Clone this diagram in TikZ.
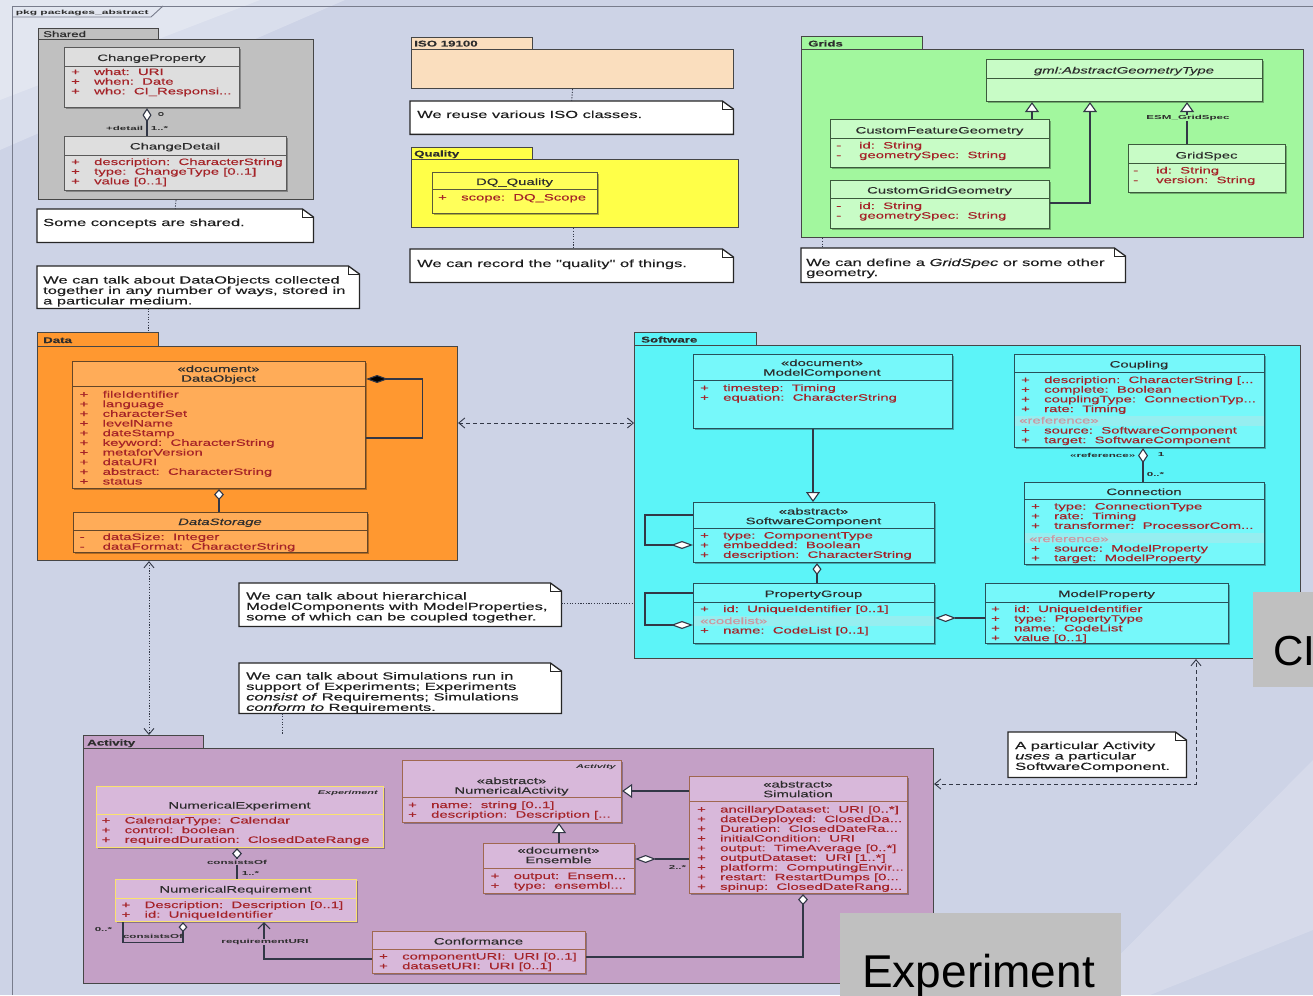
\documentclass[tikz,border=0pt]{standalone}
\usepackage{fontspec}
\usetikzlibrary{arrows.meta,calc,shadows}
\newfontfamily\umlf[FakeStretch=1.6,FakeBold=0.25]{Liberation Sans}
\newfontfamily\umlw[FakeStretch=2.0]{Liberation Sans}
\newfontfamily\plainf{Liberation Sans}
\definecolor{bgc}{RGB}{205,211,230}
\definecolor{framel}{RGB}{120,124,140}
\definecolor{pkgline}{RGB}{70,70,70}
\definecolor{shpk}{RGB}{192,192,192}
\definecolor{shcl}{RGB}{222,222,222}
\definecolor{shln}{RGB}{90,90,90}
\definecolor{dapk}{RGB}{255,152,48}
\definecolor{dacl}{RGB}{255,172,88}
\definecolor{daln}{RGB}{100,70,40}
\definecolor{isopk}{RGB}{250,222,190}
\definecolor{qpk}{RGB}{255,255,72}
\definecolor{qcl}{RGB}{255,255,90}
\definecolor{qln}{RGB}{90,90,60}
\definecolor{gpk}{RGB}{162,247,158}
\definecolor{gcl}{RGB}{200,252,198}
\definecolor{gln}{RGB}{60,90,60}
\definecolor{swpk}{RGB}{92,244,248}
\definecolor{swcl}{RGB}{118,248,250}
\definecolor{swln}{RGB}{40,80,90}
\definecolor{swband}{RGB}{150,238,240}
\definecolor{acpk}{RGB}{196,160,198}
\definecolor{accl}{RGB}{216,184,218}
\definecolor{acln}{RGB}{160,104,80}
\definecolor{neln}{RGB}{250,226,110}
\definecolor{attrc}{RGB}{165,35,40}
\definecolor{hdrc}{RGB}{45,45,45}
\definecolor{refc}{RGB}{205,150,160}
\definecolor{notec}{RGB}{30,30,30}
\definecolor{linec}{RGB}{50,55,70}
\definecolor{gboxc}{RGB}{192,192,192}
\newcommand\AP{\makebox[23pt][l]{+}}
\newcommand\AM{\makebox[23pt][l]{-}}
\newcommand\umlclass[7]{\node[clsb, draw=#6, fill=#7, minimum width=#4pt, minimum height=#5pt] (#1) at (#2,#3) {};}
\newcommand\umlsep[3]{\draw[draw=#3, line width=0.8pt] ($(#1.north west)+(0,#2)$) -- ($(#1.north east)+(0,#2)$);}
\newcommand\umlattrs[3]{\node[attr] (#1) at (#2) {\begin{tabular}[t]{@{}l@{}}#3\end{tabular}};}
\newcommand\umlnote[5]{%
  \node[notebg, minimum width=#4pt, minimum height=#5pt] (#1) at (#2,#3) {};
  \draw[noteline, fill=white] (#1.north west) -- ($(#1.north east)+(-11,0)$) -- ($(#1.north east)+(0,8)$) -- (#1.south east) -- (#1.south west) -- cycle;
  \draw[noteline, line width=0.8pt] ($(#1.north east)+(-11,0)$) -- ($(#1.north east)+(-11,8)$) -- ($(#1.north east)+(0,8)$);}
\tikzset{
  pkg/.style={draw=pkgline, line width=1.1pt, anchor=north west, inner sep=0},
  clsb/.style={line width=1.1pt, anchor=north west, inner sep=0,
    drop shadow={shadow xshift=1.6pt, shadow yshift=-1.6pt, opacity=0.3, fill=black}},
  notebg/.style={anchor=north west, inner sep=0, draw=none},
  noteline/.style={draw=black!85, line width=1.3pt},
  attr/.style={font=\umlf\fontsize{9.3}{9.67}\selectfont, text=attrc, inner sep=0, anchor=base west},
  hdr/.style={font=\umlf\fontsize{9.3}{9.67}\selectfont, text=hdrc, inner sep=0, anchor=base},
  reftxt/.style={attr, text=refc},
  notetxt/.style={font=\umlf\fontsize{10.3}{10}\selectfont, text=notec, inner sep=0, anchor=base west},
  tablbl/.style={font=\umlf\bfseries\fontsize{8.3}{9}\selectfont, text=hdrc, inner sep=0, anchor=base west},
  lbl/.style={font=\umlw\bfseries\fontsize{5.8}{6}\selectfont, text=hdrc, inner sep=0.6pt},
  stereo/.style={font=\umlw\bfseries\itshape\fontsize{5.5}{6}\selectfont, text=hdrc, inner sep=0, anchor=base east},
  conn/.style={draw=linec, line width=1.1pt},
  agg/.style 2 args={conn, arrows={Diamond[fill=white,length=#1,width=#2]-}},
  comp/.style={conn, arrows={Diamond[fill=black,length=22pt,width=8pt]-}},
  gen/.style={conn, arrows={-Triangle[fill=white,length=10pt,width=14pt]}},
  assoc/.style={conn, arrows={-Straight Barb[length=6pt,width=12pt]}},
  dotl/.style={draw=linec, line width=0.9pt, dash pattern=on 1.2pt off 1.5pt},
  dep/.style={draw=linec, line width=0.9pt, dash pattern=on 4pt off 3pt, arrows={Straight Barb[length=6pt,width=10pt]-Straight Barb[length=6pt,width=10pt]}},
  dotdep/.style={dotl, arrows={Straight Barb[length=6pt,width=10pt]-Straight Barb[length=6pt,width=10pt]}},
  gbox/.style={fill=gboxc, draw=none, anchor=north west, inner sep=0},
  bigtxt/.style={font=\plainf\fontsize{46}{46}\selectfont, text=black, inner sep=0, anchor=base west},
}
\begin{document}
\begin{tikzpicture}[x=1pt,y=-1pt]
\useasboundingbox (0,0) rectangle (1313,995);
\fill[bgc] (0,0) rectangle (1313,995);
% light slide swooshes
\fill[white, opacity=0.25] (0,0) -- (345,0) -- (0,150) -- cycle;
\fill[white, opacity=0.25] (0,0) -- (260,0) -- (0,100) -- cycle;
\fill[white, opacity=0.18] (1313,760) -- (1313,930) -- (1150,995) -- (1080,995) -- cycle;
% frame
\draw[draw=framel, line width=0.9pt] (12,995) -- (12,6) -- (1313,6);
\draw[draw=framel, line width=0.9pt] (12,17) -- (151,17) -- (163,6);
\node[lbl, anchor=base west, font=\umlw\bfseries\fontsize{6}{7}\selectfont] (fr-l) at (15,14.5) {pkg packages\_abstract};

% ---------------- Shared
\node[pkg, fill=shpk, minimum width=120pt, minimum height=11pt] (sh-tab) at (38,28) {};
\node[pkg, fill=shpk, minimum width=275pt, minimum height=160pt] (sh) at (38,39) {};
\node[tablbl, font=\umlf\fontsize{8.3}{9}\selectfont] (sh-l) at (43,37) {Shared};
\umlclass{cp}{64}{47}{175}{60}{shln}{shcl}
\umlsep{cp}{19}{shln}
\node[hdr] (cp-h) at (151.5,61) {ChangeProperty};
\umlattrs{cp-a}{71,75}{\AP what:~~URI\\\AP when:~~Date\\\AP who:~~CI\_Responsi...}
\umlclass{cd}{64}{136}{222}{54}{shln}{shcl}
\umlsep{cd}{19}{shln}
\node[hdr] (cd-h) at (175,149.5) {ChangeDetail};
\umlattrs{cd-a}{71,165}{\AP description:~~CharacterString\\\AP type:~~ChangeType [0..1]\\\AP value [0..1]}
\draw[agg={14pt}{9pt}] ($(cp.south west)+(83,0)$) -- ($(cd.north west)+(83,0)$);
\node[lbl, anchor=west, font=\umlf\fontsize{7}{8}\selectfont] (cp-o) at (157,114) {o};
\node[lbl, anchor=base east] (cd-r) at (144,131) {+detail};
\node[lbl, anchor=base west] (cd-m) at (150,131) {1..*};
\umlnote{n-sh}{37}{209}{276}{33}
\node[notetxt] (n-sh-t) at (43,226) {Some concepts are shared.};
\draw[dotl] (sh.south) -- (n-sh.north);

% ---------------- Data note
\umlnote{n-do}{37}{266}{322}{42}
\node[notetxt] (n-do-t) at (43,283.5) {\begin{tabular}[t]{@{}l@{}}We can talk about DataObjects collected\\together in any number of ways, stored in\\a particular medium.\end{tabular}};

% ---------------- Data
\node[pkg, fill=dapk, minimum width=121pt, minimum height=14pt] (da-tab) at (37,332) {};
\node[pkg, fill=dapk, minimum width=420pt, minimum height=214pt] (da) at (37,346) {};
\node[tablbl] (da-l) at (43,343) {Data};
\draw[dotl] ($(n-do.south west)+(111,0)$) -- ($(da-tab.north west)+(111,0)$);
\umlclass{do}{72}{361}{293}{127}{daln}{dacl}
\umlsep{do}{25.5}{daln}
\node[hdr] (do-h) at (218.5,372) {\begin{tabular}[t]{@{}c@{}}«document»\\DataObject\end{tabular}};
\umlattrs{do-a}{79.5,397.5}{\AP fileIdentifier\\\AP language\\\AP characterSet\\\AP levelName\\\AP dateStamp\\\AP keyword:~~CharacterString\\\AP metaforVersion\\\AP dataURI\\\AP abstract:~~CharacterString\\\AP status}
\draw[comp] ($(do.north east)+(0,18)$) -- ++(56,0) -- ++(0,59) -- ++(-56,0);
\umlclass{ds}{73}{512}{294}{40}{daln}{dacl}
\umlsep{ds}{18.5}{daln}
\node[hdr] (ds-h) at (220,525) {\textit{DataStorage}};
\umlattrs{ds-a}{79.5,540}{\AM dataSize:~~Integer\\\AM dataFormat:~~CharacterString}
\draw[agg={11pt}{10pt}] ($(do.south west)+(147,0)$) -- ($(ds.north west)+(146,0)$);

% ---------------- ISO
\node[pkg, fill=isopk, minimum width=121pt, minimum height=12pt] (iso-tab) at (411,37) {};
\node[pkg, fill=isopk, minimum width=322pt, minimum height=39pt] (iso) at (411,49) {};
\node[tablbl] (iso-l) at (414,46.5) {ISO 19100};
\umlnote{n-iso}{410}{101}{323}{33}
\node[notetxt] (n-iso-t) at (417,118) {We reuse various ISO classes.};
\draw[dotl] (iso.south) -- (n-iso.north);

% ---------------- Quality
\node[pkg, fill=qpk, minimum width=121pt, minimum height=12pt] (q-tab) at (411,147) {};
\node[pkg, fill=qpk, minimum width=327pt, minimum height=68pt] (q) at (411,159) {};
\node[tablbl] (q-l) at (414,156.5) {Quality};
\umlclass{dq}{432}{172}{165}{41}{qln}{qcl}
\umlsep{dq}{17.5}{qln}
\node[hdr] (dq-h) at (514.5,185) {DQ\_Quality};
\umlattrs{dq-a}{438,200.5}{\AP scope:~~DQ\_Scope}
\umlnote{n-q}{410}{249}{323}{33}
\node[notetxt] (n-q-t) at (417,267) {We can record the "quality" of things.};
\draw[dotl] ($(q.south west)+(162,0)$) -- ($(n-q.north west)+(163,0)$);

% ---------------- Grids
\node[pkg, fill=gpk, minimum width=121pt, minimum height=13pt] (g-tab) at (801,36) {};
\node[pkg, fill=gpk, minimum width=502pt, minimum height=188pt] (g) at (801,49) {};
\node[tablbl] (g-l) at (808,46.5) {Grids};
\umlclass{agt}{986}{59}{276}{42}{gln}{gcl}
\umlsep{agt}{19}{gln}
\node[hdr] (agt-h) at (1124,73.5) {\textit{gml:AbstractGeometryType}};
\umlclass{cfg}{830}{119}{219}{48}{gln}{gcl}
\umlsep{cfg}{19}{gln}
\node[hdr] (cfg-h) at (939.5,133.5) {CustomFeatureGeometry};
\umlattrs{cfg-a}{836,148.5}{\AM id:~~String\\\AM geometrySpec:~~String}
\umlclass{cgg}{830}{180}{219}{48}{gln}{gcl}
\umlsep{cgg}{18}{gln}
\node[hdr] (cgg-h) at (939.5,193.5) {CustomGridGeometry};
\umlattrs{cgg-a}{836,209}{\AM id:~~String\\\AM geometrySpec:~~String}
\umlclass{gs}{1128}{144}{157}{48}{gln}{gcl}
\umlsep{gs}{19}{gln}
\node[hdr] (gs-h) at (1206.5,158.5) {GridSpec};
\umlattrs{gs-a}{1133,173.5}{\AM id:~~String\\\AM version:~~String}
\draw[gen] ($(cfg.north west)+(202,0)$) -- ($(agt.south west)+(46,0)$);
\draw[gen] ($(cgg.north east)+(0,23)$) -| ($(agt.south west)+(104,0)$);
\draw[gen] ($(gs.north west)+(59,0)$) -- ($(agt.south west)+(201,0)$);
\node[lbl, fill=gpk] (gs-s) at (1188,118) {ESM\_GridSpec};
\umlnote{n-g}{801}{248}{324}{34}
\node[notetxt] (n-g-t) at (806,266) {\begin{tabular}[t]{@{}l@{}}We can define a \textit{GridSpec} or some other\\geometry.\end{tabular}};
\draw[dotl] ($(g.south west)+(21,0)$) -- ($(n-g.north west)+(21,0)$);

% ---------------- Software
\node[pkg, fill=swpk, minimum width=122pt, minimum height=13pt] (sw-tab) at (634,332) {};
\node[pkg, fill=swpk, minimum width=666pt, minimum height=313pt] (sw) at (634,345) {};
\node[tablbl] (sw-l) at (641,342.5) {Software};
\umlclass{mc}{693}{354}{259}{74}{swln}{swcl}
\umlsep{mc}{26.5}{swln}
\node[hdr] (mc-h) at (822,366) {\begin{tabular}[t]{@{}c@{}}«document»\\ModelComponent\end{tabular}};
\umlattrs{mc-a}{700,391}{\AP timestep:~~Timing\\\AP equation:~~CharacterString}
\umlclass{sc}{693}{502}{241}{60}{swln}{swcl}
\umlsep{sc}{26.5}{swln}
\node[hdr] (sc-h) at (813.5,514.5) {\begin{tabular}[t]{@{}c@{}}«abstract»\\SoftwareComponent\end{tabular}};
\umlattrs{sc-a}{700,538.5}{\AP type:~~ComponentType\\\AP embedded:~~Boolean\\\AP description:~~CharacterString}
\umlclass{pg}{693}{583}{241}{60}{swln}{swcl}
\umlsep{pg}{19}{swln}
\fill[swband] ($(pg.north west)+(1,33)$) rectangle ($(pg.north east)+(-1,43)$);
\node[hdr] (pg-h) at (813.5,597) {PropertyGroup};
\umlattrs{pg-a}{700,612}{\AP id:~~UniqueIdentifier [0..1]}
\node[reftxt] (pg-r) at (700,624) {«codelist»};
\umlattrs{pg-b}{700,633.5}{\AP name:~~CodeList [0..1]}
\umlclass{mp}{985}{583}{243}{60}{swln}{swcl}
\umlsep{mp}{19}{swln}
\node[hdr] (mp-h) at (1106.5,597) {ModelProperty};
\umlattrs{mp-a}{991,612}{\AP id:~~UniqueIdentifier\\\AP type:~~PropertyType\\\AP name:~~CodeList\\\AP value [0..1]}
\umlclass{cpl}{1014}{354}{250}{93}{swln}{swcl}
\umlsep{cpl}{18.5}{swln}
\fill[swband] ($(cpl.north west)+(1,62)$) rectangle ($(cpl.north east)+(-1,72)$);
\node[hdr] (cpl-h) at (1139,367.5) {Coupling};
\umlattrs{cpl-a}{1021,383}{\AP description:~~CharacterString [...\\\AP complete:~~Boolean\\\AP couplingType:~~ConnectionTyp...\\\AP rate:~~Timing}
\node[reftxt] (cpl-r) at (1019,423.5) {«reference»};
\umlattrs{cpl-b}{1021,433.5}{\AP source:~~SoftwareComponent\\\AP target:~~SoftwareComponent}
\umlclass{con}{1024}{482}{240}{82}{swln}{swcl}
\umlsep{con}{17.5}{swln}
\fill[swband] ($(con.north west)+(1,51)$) rectangle ($(con.north east)+(-1,61)$);
\node[hdr] (con-h) at (1144,495) {Connection};
\umlattrs{con-a}{1031,509.5}{\AP type:~~ConnectionType\\\AP rate:~~Timing\\\AP transformer:~~ProcessorCom...}
\node[reftxt] (con-rr) at (1029,542) {«reference»};
\umlattrs{con-b}{1031,551.5}{\AP source:~~ModelProperty\\\AP target:~~ModelProperty}
\draw[gen] ($(mc.south west)+(120,0)$) -- ($(sc.north west)+(120,0)$);
\draw[agg={22pt}{8pt}] ($(sc.north west)+(0,43)$) -- ++(-48,0) -- ++(0,-30) -- ++(48,0);
\draw[agg={12pt}{9pt}] ($(sc.south west)+(124,0)$) -- ($(pg.north west)+(124,0)$);
\draw[agg={22pt}{8pt}] ($(pg.north west)+(0,42)$) -- ++(-48,0) -- ++(0,-32) -- ++(48,0);
\draw[agg={21pt}{8pt}] ($(pg.north east)+(0,35)$) -- ($(mp.north west)+(0,35)$);
\draw[agg={15pt}{10pt}] ($(cpl.south west)+(129,0)$) -- ($(con.north west)+(119,0)$);
\node[lbl, anchor=east] (con-r) at (1136,455) {«reference»};
\node[lbl, anchor=west] (con-1) at (1157,455) {1};
\node[lbl, anchor=west] (con-m) at (1146,474) {0..*};

% Data <-> Software
\draw[dep] ($(da.north east)+(0,77)$) -- ($(sw.north west)+(0,78)$);

% ---------------- middle notes
\umlnote{n-h}{239}{583}{322}{43}
\node[notetxt] (n-h-t) at (246,599.5) {\begin{tabular}[t]{@{}l@{}}We can talk about hierarchical\\ModelComponents with ModelProperties,\\some of which can be coupled together.\end{tabular}};
\draw[dotl] ($(n-h.north east)+(0,20)$) -- ($(sw.north west)+(0,258)$);
\umlnote{n-s}{239}{663}{322}{50}
\node[notetxt] (n-s-t) at (246,679.5) {\begin{tabular}[t]{@{}l@{}}We can talk about Simulations run in\\support of Experiments; Experiments\\\textit{consist of} Requirements; Simulations\\\textit{conform to} Requirements.\end{tabular}};

% ---------------- Activity
\node[pkg, fill=acpk, minimum width=120pt, minimum height=13pt] (act-tab) at (83,735) {};
\node[pkg, fill=acpk, minimum width=850pt, minimum height=235pt] (act) at (83,748) {};
\node[tablbl] (act-l) at (87,745.5) {Activity};
\draw[dotl] ($(n-s.south west)+(43,0)$) -- ($(act-tab.north west)+(199,0)$);
\draw[dotdep] ($(da.south west)+(112,0)$) -- ($(act-tab.north west)+(66,0)$);

\umlclass{ne}{96}{786}{287}{61}{neln}{accl}
\umlsep{ne}{28}{neln}
\node[stereo] (ne-s) at (378,794) {Experiment};
\node[hdr] (ne-h) at (239.5,808.5) {NumericalExperiment};
\umlattrs{ne-a}{101.5,823.5}{\AP CalendarType:~~Calendar\\\AP control:~~boolean\\\AP requiredDuration:~~ClosedDateRange}
\umlclass{nr}{115}{879}{241}{42}{neln}{accl}
\umlsep{nr}{19}{neln}
\node[hdr] (nr-h) at (235.5,892.5) {NumericalRequirement};
\umlattrs{nr-a}{121.5,908}{\AP Description:~~Description [0..1]\\\AP id:~~UniqueIdentifier}
\draw[agg={11pt}{10pt}] ($(ne.south west)+(141,0)$) -- ($(nr.north west)+(122,0)$);
\node[lbl, fill=acpk] (nr-c) at (237,862) {consistsOf};
\node[lbl, anchor=base west] (nr-m) at (241,875.5) {1..*};
\draw[agg={10pt}{9pt}] ($(nr.south west)+(68,0)$) -- ++(0,20) -- ++(-60,0) -- ++(0,-20);
\node[lbl] (nr-c2) at (153,936.5) {consistsOf};
\node[lbl, anchor=base east] (nr-z) at (113,931) {0..*};

\umlclass{cf}{372}{931}{213}{42}{acln}{accl}
\umlsep{cf}{18.5}{acln}
\node[hdr] (cf-h) at (478.5,944.5) {Conformance};
\umlattrs{cf-a}{379,959.5}{\AP componentURI:~~URI [0..1]\\\AP datasetURI:~~URI [0..1]}
\draw[assoc] ($(cf.north west)+(0,28)$) -| ($(nr.south west)+(149,0)$);
\node[lbl, fill=acpk] (cf-r) at (265,942) {requirementURI};

\umlclass{na}{402}{760}{219}{62}{acln}{accl}
\umlsep{na}{37.5}{acln}
\node[stereo] (na-s) at (616,768) {Activity};
\node[hdr] (na-h) at (511.5,784) {\begin{tabular}[t]{@{}c@{}}«abstract»\\NumericalActivity\end{tabular}};
\umlattrs{na-a}{408,808}{\AP name:~~string [0..1]\\\AP description:~~Description [...}

\umlclass{en}{483}{843}{151}{50}{acln}{accl}
\umlsep{en}{25}{acln}
\node[hdr] (en-h) at (558.5,853.5) {\begin{tabular}[t]{@{}c@{}}«document»\\Ensemble\end{tabular}};
\umlattrs{en-a}{490.5,879}{\AP output:~~Ensem...\\\AP type:~~ensembl...}

\umlclass{sim}{689}{776}{218}{117}{acln}{accl}
\umlsep{sim}{25.5}{acln}
\node[hdr] (sim-h) at (798,787.5) {\begin{tabular}[t]{@{}c@{}}«abstract»\\Simulation\end{tabular}};
\umlattrs{sim-a}{697,812.5}{\AP ancillaryDataset:~~URI [0..*]\\\AP dateDeployed:~~ClosedDa...\\\AP Duration:~~ClosedDateRa...\\\AP initialCondition:~~URI\\\AP output:~~TimeAverage [0..*]\\\AP outputDataset:~~URI [1..*]\\\AP platform:~~ComputingEnvir...\\\AP restart:~~RestartDumps [0...\\\AP spinup:~~ClosedDateRang...}

\draw[gen] ($(sim.north west)+(0,15)$) -- ($(na.north east)+(0,31)$);
\draw[gen] ($(en.north west)+(76,0)$) -- ($(na.south west)+(157,0)$);
\draw[agg={21pt}{8pt}] ($(en.north east)+(0,16)$) -- ($(sim.north west)+(0,83)$);
\node[lbl, anchor=base west] (en-m) at (668,869) {2..*};
\draw[agg={11pt}{10pt}] ($(sim.south west)+(114,0)$) |- ($(cf.north east)+(0,26)$);

% Activity <-> Software
\draw[dep] ($(act.north east)+(0,36)$) -| ($(sw.south west)+(562,0)$);
\umlnote{n-u}{1008}{732}{178}{45}
\node[notetxt] (n-u-t) at (1015,749) {\begin{tabular}[t]{@{}l@{}}A particular Activity\\\textit{uses} a particular\\SoftwareComponent.\end{tabular}};

% ---------------- overlay boxes
\node[gbox, minimum width=62pt, minimum height=95pt] (ci) at (1253,592) {};
\node[bigtxt, font=\plainf\fontsize{42}{42}\selectfont] (ci-t) at (1273,665) {CI};
\node[gbox, minimum width=281pt, minimum height=85pt] (exp) at (840,913) {};
\node[bigtxt] (exp-t) at (862,987) {Experiment};
\end{tikzpicture}
\end{document}
